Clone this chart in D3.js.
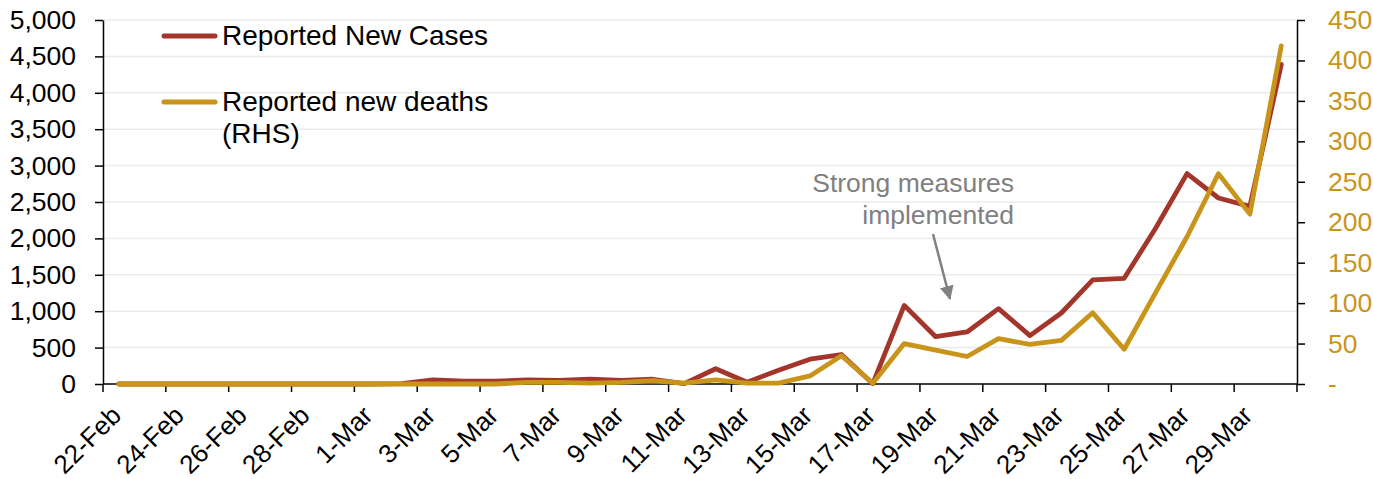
<!DOCTYPE html>
<html>
<head>
<meta charset="utf-8">
<script src="https://cdn.jsdelivr.net/npm/d3@7"></script>
<style>
  body { margin: 0; background: #fff; }
  svg text { font-family: "Liberation Sans", Arial, sans-serif; }
</style>
</head>
<body>
<svg id="chart"></svg>
<script>
// dates 22-Feb .. 30-Mar
const dates = ["22-Feb","23-Feb","24-Feb","25-Feb","26-Feb","27-Feb","28-Feb","29-Feb",
  "1-Mar","2-Mar","3-Mar","4-Mar","5-Mar","6-Mar","7-Mar","8-Mar","9-Mar","10-Mar",
  "11-Mar","12-Mar","13-Mar","14-Mar","15-Mar","16-Mar","17-Mar","18-Mar","19-Mar","20-Mar",
  "21-Mar","22-Mar","23-Mar","24-Mar","25-Mar","26-Mar","27-Mar","28-Mar","29-Mar","30-Mar"];

const newCases = [0,0,0,0,0,0,0,0,
  0,5,55,40,40,55,50,65,50,65,
  5,210,25,190,340,405,5,1080,650,715,
  1035,665,975,1430,1452,2140,2890,2555,2440,4390];

const newDeaths = [0,0,0,0,0,0,0,0,
  0,0,0,0,0,2,2,1,2,4,
  1,5,1,1,10,35,1,50,42,34,
  56,49,54,88,43,113,182,260,210,418];

const leftTicks = [0,500,1000,1500,2000,2500,3000,3500,4000,4500,5000];
const rightTicks = [0,50,100,150,200,250,300,350,400,450];

const caseColor = "#a3352a";
const deathColor = "#c9941a";

const W = 1373, H = 479;
const plot = { left: 103, right: 1297, top: 20, bottom: 384 };

const svg = d3.select("#chart").attr("width", W).attr("height", H);

const x = d3.scaleBand().domain(dates).range([plot.left, plot.right]).padding(0);
const yL = d3.scaleLinear().domain([0, 5000]).range([plot.bottom, plot.top]);
const yR = d3.scaleLinear().domain([0, 450]).range([plot.bottom, plot.top]);
const cx = d => x(d) + x.bandwidth() / 2;

// gridlines
svg.append("g").selectAll("line")
  .data(leftTicks.filter(t => t > 0))
  .join("line")
  .attr("x1", plot.left).attr("x2", plot.right)
  .attr("y1", d => yL(d)).attr("y2", d => yL(d))
  .attr("stroke", "#ebebeb").attr("stroke-width", 1.5);

// left axis
const gL = svg.append("g").attr("transform", `translate(${plot.left},0)`)
  .call(d3.axisLeft(yL).tickValues(leftTicks).tickFormat(d3.format(","))
    .tickSize(8).tickPadding(19).tickSizeOuter(0));
gL.selectAll("text").attr("font-size", 26.5).attr("fill", "#000");

// right axis
const gR = svg.append("g").attr("transform", `translate(${plot.right},0)`)
  .call(d3.axisRight(yR).tickValues(rightTicks).tickFormat(d => d === 0 ? "-" : d)
    .tickSize(8).tickPadding(23).tickSizeOuter(0));
gR.selectAll("text").attr("font-size", 26.5).attr("fill", deathColor);

// x axis line + tick marks at every second category boundary
const gX = svg.append("g");
gX.append("line").attr("x1", plot.left).attr("x2", plot.right)
  .attr("y1", plot.bottom).attr("y2", plot.bottom);
const boundaries = dates.filter((d, i) => i % 2 === 0).map(d => x(d)).concat([x.range()[1]]);
gX.selectAll(".xt").data(boundaries).join("line")
  .attr("class", "xt")
  .attr("x1", d => d).attr("x2", d => d)
  .attr("y1", plot.bottom).attr("y2", plot.bottom + 8);
gX.selectAll("line").attr("stroke", "#000").attr("stroke-width", 1.5);

gX.selectAll(".xl").data(dates.filter((d, i) => i % 2 === 0)).join("text")
  .attr("class", "xl")
  .attr("transform", d => `translate(${cx(d) + 4},${plot.bottom + 33}) rotate(-45)`)
  .attr("text-anchor", "end")
  .attr("font-size", 26)
  .text(d => d);

[gL, gR].forEach(g => {
  g.selectAll("path.domain").attr("stroke", "#000").attr("stroke-width", 1.5);
  g.selectAll(".tick line").attr("stroke", "#000").attr("stroke-width", 1.5);
});

// lines
const lineCases = d3.line().x((d, i) => cx(dates[i])).y(d => yL(d));
const lineDeaths = d3.line().x((d, i) => cx(dates[i])).y(d => yR(d));

svg.append("path").datum(newCases)
  .attr("fill", "none").attr("stroke", caseColor).attr("stroke-width", 4.8)
  .attr("stroke-linejoin", "round").attr("stroke-linecap", "round")
  .attr("d", lineCases);

svg.append("path").datum(newDeaths)
  .attr("fill", "none").attr("stroke", deathColor).attr("stroke-width", 4.8)
  .attr("stroke-linejoin", "round").attr("stroke-linecap", "round")
  .attr("d", lineDeaths);

// legend
const legendItems = [
  { color: caseColor, lines: ["Reported New Cases"], y: 36 },
  { color: deathColor, lines: ["Reported new deaths", "(RHS)"], y: 102 }
];
legendItems.forEach(it => {
  svg.append("line")
    .attr("x1", 164).attr("x2", 215).attr("y1", it.y).attr("y2", it.y)
    .attr("stroke", it.color).attr("stroke-width", 5).attr("stroke-linecap", "round");
  it.lines.forEach((t, j) => {
    svg.append("text").attr("x", 222).attr("y", it.y + 9 + j * 32)
      .attr("font-size", 28).attr("fill", "#000").text(t);
  });
});

// annotation
svg.append("defs").append("marker")
  .attr("id", "arrow").attr("markerUnits", "userSpaceOnUse")
  .attr("viewBox", "0 0 14 14").attr("refX", 13).attr("refY", 7)
  .attr("markerWidth", 14).attr("markerHeight", 14).attr("orient", "auto")
  .append("path").attr("d", "M0,0 L14,7 L0,14 Z").attr("fill", "#808080");

["Strong measures", "implemented"].forEach((t, j) => {
  svg.append("text").attr("x", 1014).attr("y", 192 + j * 32)
    .attr("text-anchor", "end").attr("font-size", 26.5).attr("fill", "#808080").text(t);
});
svg.append("line")
  .attr("x1", 933).attr("y1", 234).attr("x2", 950).attr("y2", 299)
  .attr("stroke", "#808080").attr("stroke-width", 2.5)
  .attr("marker-end", "url(#arrow)");
</script>
</body>
</html>
